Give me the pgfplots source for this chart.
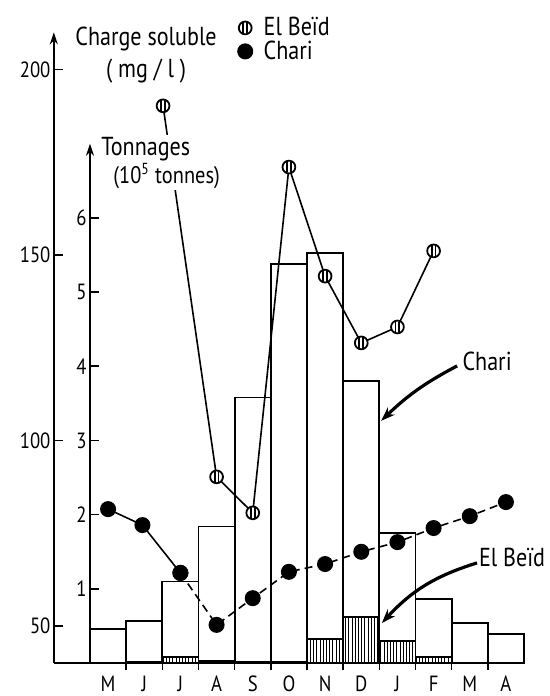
\documentclass[border=0pt]{standalone}
\usepackage{fontspec}
\setmainfont[FakeStretch=0.85]{PT Sans}
\usepackage{pgfplots}
\pgfplotsset{compat=1.18}
\usepackage{pgfplotstable}
\usetikzlibrary{patterns.meta,arrows.meta}

\pgfdeclareplotmark{elbeid}{%
  \pgfpathcircle{\pgfpointorigin}{\pgfplotmarksize}%
  \pgfusepathqfillstroke
  \pgfpathmoveto{\pgfpoint{-0.3\pgfplotmarksize}{-0.85\pgfplotmarksize}}%
  \pgfpathlineto{\pgfpoint{-0.3\pgfplotmarksize}{0.85\pgfplotmarksize}}%
  \pgfpathmoveto{\pgfpoint{0.3\pgfplotmarksize}{-0.85\pgfplotmarksize}}%
  \pgfpathlineto{\pgfpoint{0.3\pgfplotmarksize}{0.85\pgfplotmarksize}}%
  \pgfusepathqstroke
}

\pgfplotstableread{
x chari elbeid
0.5 0.46 0
1.5 0.57 0.02
2.5 1.10 0.08
3.5 1.84 0.03
4.5 3.58 0.02
5.5 5.38 0.02
6.5 5.53 0.32
7.5 3.80 0.62
8.5 1.75 0.30
9.5 0.86 0.08
10.5 0.54 0
11.5 0.39 0
}\tonnages

\pgfplotstableread{
x v
2.02 190.2
3.5 90.2
4.5 80.5
5.5 173.7
6.5 144.3
7.5 126.3
8.5 130.6
9.5 151.1
}\elbeidmg

\pgfplotstableread{
x v
0.5 81.5
1.45 77.2
2.5 64.3
}\charisolid

\pgfplotstableread{
x v
2.5 64.3
3.5 50.3
4.5 57.5
5.5 64.6
6.5 66.7
7.5 70.0
8.5 72.6
9.5 76.4
10.5 79.6
11.5 83.4
}\charidash

\newcommand{\lab}{\fontsize{11}{13}\selectfont}
\newcommand{\txt}{\fontsize{13}{15}\selectfont}

\begin{document}
\begin{tikzpicture}
% ---------- tonnage axis (bars) ----------
\begin{axis}[
  at={(0,0)}, anchor=south west,
  scale only axis, width=235.1pt, height=315.35pt,
  xmin=-1, xmax=12, ymin=0, ymax=8.5,
  clip=false,
  axis x line*=bottom, axis y line=none,
  x axis line style={-, line width=1.2pt},
  xtick={0.5,1.5,...,11.5},
  xticklabels={M,J,J,A,S,O,N,D,J,F,M,A},
  major tick length=0pt,
  minor xtick={1,2,...,11},
  minor tick length=3.5pt,
  tick align=outside,
  minor tick style={line width=0.8pt, black},
  xticklabel style={font=\lab, yshift=-3pt},
  ybar, bar width=1, 
]
\addplot[ybar, bar shift=0pt, draw=black, fill=white, line width=0.9pt]
  table[x=x, y=chari] {\tonnages};
\addplot[ybar, bar shift=0pt, draw=black, line width=0.9pt,
  pattern={Lines[angle=90,distance=1.6pt,line width=0.5pt]}]
  table[x=x, y=elbeid] {\tonnages};
\draw[line width=0.9pt, -{Stealth[length=6pt,width=4pt]}] (axis cs:0,0) -- (axis cs:0,7);
\pgfplotsinvokeforeach{1,...,6}{
  \draw[line width=0.8pt] (axis cs:0,#1) -- ([xshift=4.5pt]axis cs:0,#1);
  \node[anchor=east, inner sep=1.5pt, font=\lab] at (axis cs:0,#1) {#1};
}
\end{axis}
% ---------- concentration axis ----------
\begin{axis}[
  at={(0,0)}, anchor=south west,
  scale only axis, width=235.1pt, height=315.35pt,
  xmin=-1, xmax=12, ymin=40, ymax=210,
  clip=false,
  axis y line=left, axis x line=none,
  y axis line style={line width=0.9pt, -{Stealth[length=6pt,width=4pt]}},
  ytick={50,100,150,200},
  major tick length=0pt,
  yticklabel style={font=\lab, inner sep=1.5pt},
  /pgf/number format/assume math mode=true,
  legend style={draw=none, fill=none, font=\txt,
    at={(axis description cs:0.39,1.031)}, anchor=north west,
    row sep=-3pt, inner sep=0pt},
  legend cell align=left,
  legend image code/.code={\path (0,0) (0.36cm,0); \draw[#1, solid] plot[only marks] coordinates {(0.12cm,0cm)};},
]
\addplot[black, line width=0.8pt, mark=elbeid, mark size=3.2pt,
  mark options={fill=white, line width=0.9pt, solid}]
  table[x=x, y=v] {\elbeidmg};
\addlegendentry{El Beïd}
\addplot[black, line width=0.8pt, mark=*, mark size=3.6pt,
  mark options={fill=black, solid}]
  table[x=x, y=v] {\charisolid};
\addlegendentry{Chari}
\addplot[black, line width=0.8pt, dash pattern=on 4pt off 2.5pt, mark=*, mark size=3.6pt,
  mark options={fill=black, solid}, forget plot]
  table[x=x, y=v] {\charidash};

\pgfplotsinvokeforeach{50,100,150,200}{
  \draw[line width=0.8pt] (axis cs:-1,#1) -- ([xshift=4.5pt]axis cs:-1,#1);
}

\node[align=center, font=\txt] at (axis cs:1.55,203.9) {Charge soluble\\[1pt]( mg / l )};
\node[align=left, anchor=north west, fill=white, inner sep=1pt, font=\txt]
  at (axis cs:0.25,182.5) {Tonnages\\[-1pt]\hspace*{6pt}{\fontsize{12}{14}\selectfont(10\textsuperscript{5} tonnes)}};

\node[font=\txt] at (axis cs:10.98,121.2) {Chari};
\draw[line width=1.6pt, -{Stealth[length=7pt,width=5pt]}] (axis cs:10.15,120.1) to[bend right=8] (axis cs:8.05,105.3);
\node[font=\txt] at (axis cs:11.67,68.6) {El Beïd};
\draw[line width=1.6pt, -{Stealth[length=7pt,width=5pt]}] (axis cs:10.70,67.0) to[bend right=15] (axis cs:8.07,50.8);

\coordinate (bbll) at (axis cs:-2.488,31.13);
\coordinate (bbur) at (axis cs:12.718,218.73);
\end{axis}
\pgfresetboundingbox
\path (bbll) rectangle (bbur);
\end{tikzpicture}
\end{document}
